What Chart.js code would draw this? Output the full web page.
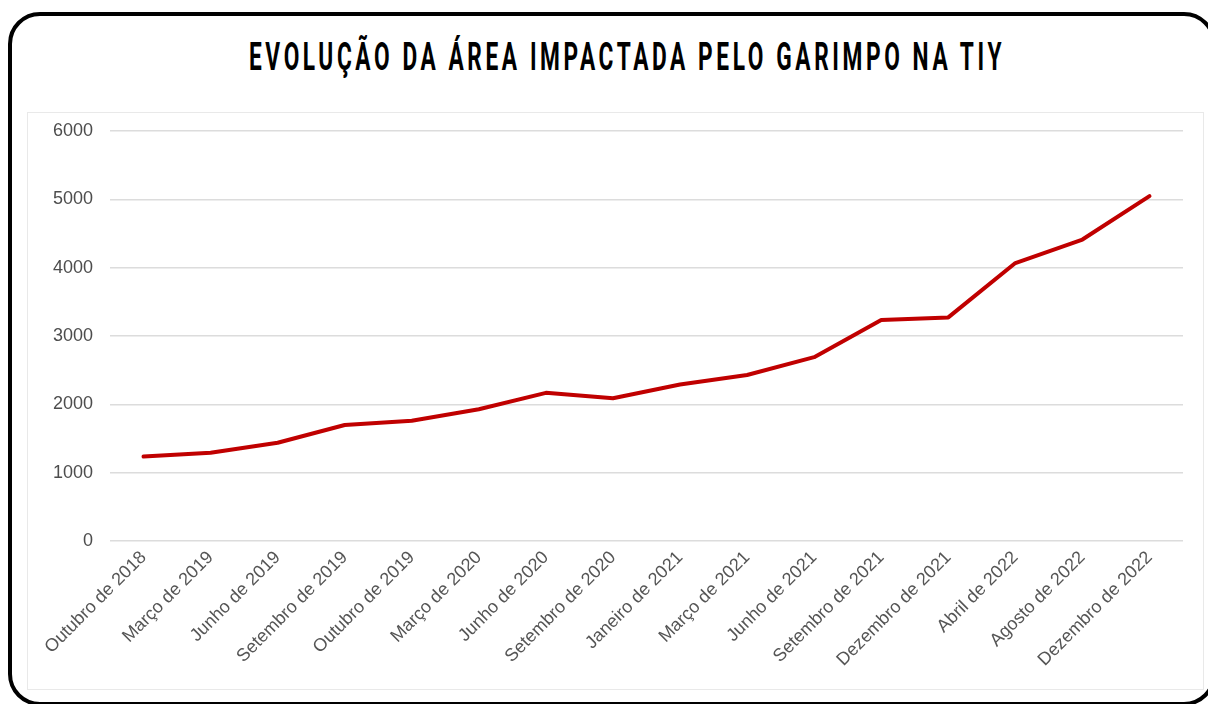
<!DOCTYPE html>
<html>
<head>
<meta charset="utf-8">
<script src="https://cdn.jsdelivr.net/npm/chart.js@4"></script>
<style>
  html, body { margin: 0; padding: 0; background: #fff; overflow: hidden; }
  body { width: 1208px; height: 704px; position: relative; }
  #clip { position: absolute; left: 0; top: 0; width: 1208px; height: 704px; overflow: hidden; }
  #frame {
    position: absolute; left: 8px; top: 12px; width: 1200px; height: 686px;
    border: 4.5px solid #000; border-radius: 32px;
  }
  #box {
    position: absolute; left: 27px; top: 112px; width: 1175px; height: 576px;
    border: 1px solid #e9e9e9;
  }
  #title {
    position: absolute; left: -376px; width: 2000px; top: 35px; text-align: center;
    font-family: Roboto, "DejaVu Sans Condensed", sans-serif; font-weight: bold;
    font-size: 38px; line-height: 44px; color: #000; letter-spacing: 6px;
    white-space: nowrap;
  }
  #title span { display: inline-block; transform-origin: center; margin-right: -6px; }
  #wrap { position: absolute; left: 28px; top: 113px; width: 1175px; height: 575px; }
</style>
</head>
<body>
<div id="clip"><div id="frame"></div></div>
<div id="box"></div>
<div id="title"><span id="titleText">EVOLUÇÃO DA ÁREA IMPACTADA PELO GARIMPO NA TIY</span></div>
<div id="wrap"><canvas id="myChart"></canvas></div>
<script>
// DATA
const categories = [
  "Outubro de 2018", "Março de 2019", "Junho de 2019", "Setembro de 2019",
  "Outubro de 2019", "Março de 2020", "Junho de 2020", "Setembro de 2020",
  "Janeiro de 2021", "Março de 2021", "Junho de 2021", "Setembro de 2021",
  "Dezembro de 2021", "Abril de 2022", "Agosto de 2022", "Dezembro de 2022"
];
const areaValues = [
  1235, 1292, 1438, 1698, 1760, 1928, 2168, 2090,
  2290, 2430, 2690, 3234, 3272, 4068, 4412, 5046
];
const yTicks = [0, 1000, 2000, 3000, 4000, 5000, 6000];

// squeeze the title to the condensed width of the original
const t = document.getElementById("titleText");
const targetWidth = 756;
t.style.transform = "scaleX(" + (targetWidth / t.getBoundingClientRect().width) + ")";

const ctx = document.getElementById("myChart").getContext("2d");
const myChart = new Chart(ctx, {
  type: "line",
  data: {
    labels: categories,
    datasets: [
      {
        label: "Área impactada",
        data: areaValues,
        borderColor: "#c00000",
        backgroundColor: "#c00000",
        borderWidth: 4,
        pointRadius: 0,
        tension: 0,
        borderJoinStyle: "round",
        borderCapStyle: "round",
      },
    ],
  },
  options: {
    responsive: true,
    maintainAspectRatio: false,
    animation: false,
    layout: { padding: { top: 18, right: 20, left: 0, bottom: 0 } },
    plugins: {
      legend: { display: false },
      tooltip: { enabled: false },
    },
    scales: {
      x: {
        offset: true,
        grid: { display: false, drawTicks: false },
        border: { display: false },
        ticks: {
          color: "#555",
          font: { family: "Liberation Sans, Arial, sans-serif", size: 18 },
          minRotation: 45,
          maxRotation: 45,
          autoSkip: false,
          padding: 6,
        },
        afterFit: (scale) => { scale.height = 147; },
      },
      y: {
        min: yTicks[0],
        max: yTicks[yTicks.length - 1],
        afterBuildTicks: (scale) => { scale.ticks = yTicks.map((v) => ({ value: v })); },
        // transparent tick marks keep the labels away from the plot
        grid: { color: "#dcdcdc", lineWidth: 1.5, drawTicks: true, tickLength: 17, tickColor: "rgba(0,0,0,0)" },
        border: { display: false },
        ticks: {
          color: "#4d4d4d",
          font: { family: "Liberation Sans, Arial, sans-serif", size: 18 },
          padding: 0,
          callback: (v) => String(v),
        },
        afterFit: (scale) => { scale.width = 82; },
      },
    },
  },
});
</script>
</body>
</html>
